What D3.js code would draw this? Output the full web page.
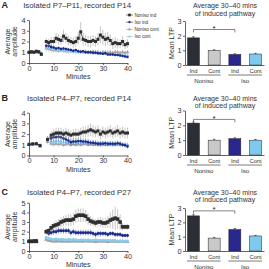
<!DOCTYPE html>
<html>
<head>
<meta charset="utf-8">
<script src="https://cdn.jsdelivr.net/npm/d3@7"></script>
<style>
body { margin: 0; background: #fff; }
svg { display: block; font-family: "Liberation Sans", Arial, sans-serif; }
</style>
</head>
<body>
<div id="chart"></div>
<script>
// ---- data ----
const seriesNames = ["Noniso ind", "Iso ind", "Noniso cont", "Iso cont"];
const minuteTicks = [0, 10, 20, 30, 40];
const barLabels = ["Ind", "Cont", "Ind", "Cont"];
const groupLabels = ["Noniso", "Iso"];
const barTitle = ["Average 30\u201340 mins", "of induced pathway"];

// panel A
const aMinutes = [0, 1, 2, 3, 4, 5,
    7, 8, 9, 10, 11, 12, 13, 14, 15, 16,
    17, 18, 19, 20, 21, 22, 23, 24, 25, 26,
    27, 28, 29, 30, 31, 32, 33, 34, 35, 36,
    37, 38, 39, 40];
const aNonisoInd = [1.0, 1.05, 1.0, 1.1, 1.05, 0.8,
    2.0, 1.9, 2.0, 2.0, 2.3, 2.2, 2.1, 2.5, 2.3, 2.1,
    2.0, 1.9, 2.0, 2.3, 2.9, 2.2, 2.1, 2.0, 2.0, 2.1,
    2.0, 2.2, 2.6, 2.4, 2.2, 2.3, 2.1, 1.8, 1.9, 1.8,
    1.8, 2.0, 1.7, 1.8];
const aNonisoIndErr = [0.1, 0.1, 0.1, 0.1, 0.1, 0.1,
    0.3, 0.35, 0.4, 0.4, 0.45, 0.5, 0.4, 0.6, 0.5, 0.45,
    0.4, 0.5, 0.5, 0.6, 0.9, 0.6, 0.5, 0.5, 0.55, 0.5,
    0.5, 0.6, 0.8, 0.7, 0.6, 0.6, 0.55, 0.5, 0.5, 0.45,
    0.4, 0.5, 0.4, 0.4];
const aIsoInd = [0.95, 1.0, 1.0, 1.05, 1.0, 0.85,
    1.6, 1.6, 1.5, 1.45, 1.35, 1.4, 1.3, 1.35, 1.3, 1.25,
    1.2, 1.15, 1.2, 1.1, 1.05, 1.1, 1.0, 1.0, 1.0, 0.95,
    0.95, 0.9, 0.9, 0.85, 0.9, 0.8, 0.8, 0.8, 0.75, 0.75,
    0.7, 0.65, 0.6, 0.55];
const aIsoIndErr = [0.08, 0.08, 0.08, 0.08, 0.08, 0.08,
    0.2, 0.2, 0.2, 0.15, 0.15, 0.15, 0.15, 0.15, 0.15, 0.12,
    0.12, 0.12, 0.1, 0.1, 0.1, 0.1, 0.1, 0.1, 0.1, 0.1,
    0.1, 0.1, 0.1, 0.1, 0.1, 0.1, 0.1, 0.1, 0.1, 0.1,
    0.1, 0.1, 0.1, 0.1];
const aNonisoCont = [1.0, 1.0, 1.0, 1.0, 1.0, 0.9,
    1.35, 1.3, 1.25, 1.2, 1.2, 1.15, 1.2, 1.15, 1.1, 1.1,
    1.15, 1.1, 1.05, 1.1, 1.05, 1.0, 1.05, 1.0, 1.0, 1.05,
    1.0, 1.0, 0.95, 1.0, 1.0, 0.95, 1.0, 0.95, 1.0, 1.0,
    0.95, 1.0, 0.95, 1.0];
const aNonisoContErr = [0.08, 0.08, 0.08, 0.08, 0.08, 0.08,
    0.3, 0.3, 0.3, 0.25, 0.3, 0.25, 0.3, 0.25, 0.25, 0.25,
    0.25, 0.2, 0.25, 0.2, 0.2, 0.2, 0.2, 0.2, 0.2, 0.2,
    0.2, 0.2, 0.2, 0.2, 0.2, 0.2, 0.2, 0.2, 0.2, 0.2,
    0.2, 0.2, 0.2, 0.2];
const aIsoCont = [1.0, 1.0, 1.05, 1.0, 1.0, 0.9,
    1.45, 1.4, 1.35, 1.3, 1.25, 1.2, 1.2, 1.15, 1.15, 1.1,
    1.1, 1.05, 1.05, 1.0, 1.0, 1.0, 0.95, 0.95, 0.95, 0.9,
    0.9, 0.9, 0.85, 0.85, 0.85, 0.8, 0.8, 0.8, 0.8, 0.75,
    0.75, 0.75, 0.7, 0.7];
const aIsoContErr = [0.06, 0.06, 0.06, 0.06, 0.06, 0.06,
    0.2, 0.2, 0.2, 0.15, 0.15, 0.15, 0.15, 0.15, 0.15, 0.15,
    0.12, 0.12, 0.12, 0.12, 0.12, 0.12, 0.12, 0.12, 0.12, 0.12,
    0.1, 0.1, 0.1, 0.1, 0.1, 0.1, 0.1, 0.1, 0.1, 0.1,
    0.1, 0.1, 0.1, 0.1];
const aBarMeans = [1.85, 1.0, 0.72, 0.75];
const aBarErr = [0.08, 0.04, 0.05, 0.05];

// panel B
const bMinutes = [0, 1.5, 3, 4.5,
    7.5, 9, 10, 11, 12, 13, 14, 15, 16, 17,
    18, 19, 20, 21, 22, 23, 24, 25, 26, 27,
    28, 29, 30, 31, 32, 33, 34, 35, 36, 37,
    38, 39, 40];
const bNonisoInd = [1.05, 1.1, 1.1, 0.9,
    1.5, 1.9, 2.0, 2.1, 2.1, 2.1, 2.0, 2.1, 2.0, 1.9,
    2.0, 2.0, 2.0, 2.1, 2.2, 2.2, 2.3, 2.4, 2.3, 2.2,
    2.3, 2.0, 2.2, 2.1, 2.2, 2.3, 2.1, 2.2, 2.3, 2.1,
    2.2, 2.1, 2.1];
const bNonisoIndErr = [0.1, 0.1, 0.1, 0.1,
    0.3, 0.4, 0.45, 0.5, 0.5, 0.5, 0.45, 0.5, 0.45, 0.45,
    0.45, 0.5, 0.45, 0.5, 0.5, 0.5, 0.55, 0.6, 0.55, 0.5,
    0.55, 0.5, 0.5, 0.5, 0.5, 0.55, 0.5, 0.5, 0.55, 0.5,
    0.5, 0.5, 0.5];
const bIsoInd = [1.0, 1.05, 1.1, 0.95,
    1.5, 1.6, 1.7, 1.7, 1.75, 1.7, 1.6, 1.5, 1.4, 1.25,
    1.3, 1.3, 1.35, 1.35, 1.3, 1.3, 1.25, 1.2, 1.2, 1.15,
    1.1, 1.1, 1.1, 1.15, 1.1, 1.1, 1.1, 1.1, 1.15, 1.1,
    1.0, 0.95, 0.85];
const bIsoIndErr = [0.08, 0.08, 0.08, 0.08,
    0.3, 0.35, 0.4, 0.4, 0.4, 0.4, 0.35, 0.35, 0.3, 0.3,
    0.3, 0.3, 0.3, 0.3, 0.3, 0.3, 0.3, 0.25, 0.25, 0.25,
    0.25, 0.25, 0.25, 0.25, 0.25, 0.25, 0.25, 0.25, 0.25, 0.25,
    0.2, 0.2, 0.2];
const bNonisoCont = [1.0, 1.0, 1.05, 0.95,
    1.3, 1.1, 1.05, 1.1, 1.05, 1.1, 1.0, 1.05, 1.1, 1.0,
    1.05, 1.0, 1.05, 1.0, 1.05, 1.1, 1.0, 1.05, 1.0, 1.05,
    1.0, 1.0, 1.05, 1.0, 1.0, 1.05, 1.0, 1.0, 1.05, 1.0,
    1.0, 1.0, 1.0];
const bNonisoContErr = [0.06, 0.06, 0.06, 0.06,
    0.25, 0.25, 0.25, 0.25, 0.25, 0.25, 0.25, 0.25, 0.25, 0.25,
    0.2, 0.2, 0.2, 0.2, 0.2, 0.2, 0.2, 0.2, 0.2, 0.2,
    0.2, 0.2, 0.2, 0.2, 0.2, 0.2, 0.2, 0.2, 0.2, 0.2,
    0.2, 0.2, 0.2];
const bIsoCont = [1.0, 1.05, 1.05, 1.0,
    1.4, 1.3, 1.25, 1.3, 1.3, 1.25, 1.2, 1.2, 1.25, 1.2,
    1.3, 1.2, 1.2, 1.2, 1.15, 1.2, 1.2, 1.15, 1.2, 1.2,
    1.15, 1.2, 1.2, 1.15, 1.1, 1.15, 1.1, 1.1, 1.1, 1.1,
    1.05, 1.05, 1.0];
const bIsoContErr = [0.06, 0.06, 0.06, 0.06,
    0.2, 0.2, 0.2, 0.2, 0.2, 0.2, 0.2, 0.2, 0.2, 0.2,
    0.2, 0.2, 0.2, 0.2, 0.2, 0.2, 0.2, 0.2, 0.2, 0.2,
    0.15, 0.15, 0.15, 0.15, 0.15, 0.15, 0.15, 0.15, 0.15, 0.15,
    0.15, 0.15, 0.15];
const bBarMeans = [2.15, 1.0, 1.1, 1.0];
const bBarErr = [0.07, 0.06, 0.06, 0.05];

// panel C
const cMinutes = [0, 1, 2, 3,
    7, 8, 9, 10, 11, 12, 13, 14, 15, 16,
    17, 18, 19, 20, 21, 22, 23, 24, 25, 26,
    27, 28, 29, 30, 31, 32, 33, 34, 35, 36,
    37, 38, 39, 40];
const cNonisoInd = [1.0, 1.0, 1.0, 1.0,
    2.0, 2.1, 2.4, 2.6, 2.7, 2.8, 3.0, 3.1, 3.2, 3.2,
    3.2, 3.3, 3.6, 3.7, 3.7, 3.7, 3.6, 3.3, 3.1, 3.0,
    2.9, 3.0, 3.0, 2.9, 2.9, 3.0, 3.2, 3.3, 3.4, 3.3,
    3.0, 2.5, 2.5, 2.5];
const cNonisoIndErr = [0.1, 0.1, 0.1, 0.1,
    0.3, 0.3, 0.4, 0.4, 0.45, 0.5, 0.5, 0.5, 0.55, 0.6,
    0.6, 0.6, 0.7, 0.7, 0.7, 0.7, 0.65, 0.6, 0.5, 0.45,
    0.4, 0.45, 0.5, 0.5, 0.55, 0.6, 0.8, 1.0, 1.2, 1.0,
    0.8, 0.4, 0.3, 0.3];
const cIsoInd = [1.0, 0.95, 1.05, 1.1,
    2.0, 1.8, 1.9, 2.0, 2.0, 2.1, 2.1, 2.1, 2.1, 2.1,
    1.9, 2.0, 1.9, 1.9, 1.9, 1.9, 1.9, 1.9, 1.9, 1.8,
    1.7, 1.8, 1.8, 1.8, 1.8, 1.7, 1.8, 1.8, 1.7, 1.7,
    1.7, 1.6, 1.6, 1.6];
const cIsoIndErr = [0.08, 0.08, 0.08, 0.08,
    0.25, 0.25, 0.3, 0.3, 0.3, 0.3, 0.3, 0.3, 0.3, 0.3,
    0.3, 0.3, 0.3, 0.3, 0.3, 0.3, 0.3, 0.3, 0.3, 0.3,
    0.3, 0.3, 0.3, 0.25, 0.25, 0.25, 0.25, 0.25, 0.25, 0.25,
    0.25, 0.2, 0.2, 0.2];
const cNonisoCont = [1.0, 1.0, 1.0, 1.0,
    1.2, 1.1, 1.05, 1.0, 1.0, 1.05, 1.0, 1.0, 1.0, 1.0,
    1.0, 1.05, 1.0, 1.0, 1.0, 1.0, 1.05, 1.0, 1.0, 1.0,
    0.95, 1.0, 1.0, 1.0, 1.0, 0.95, 1.0, 1.0, 1.0, 0.95,
    1.0, 1.0, 0.95, 0.95];
const cNonisoContErr = [0.06, 0.06, 0.06, 0.06,
    0.15, 0.15, 0.15, 0.15, 0.15, 0.15, 0.15, 0.15, 0.15, 0.15,
    0.15, 0.15, 0.15, 0.15, 0.15, 0.15, 0.15, 0.15, 0.15, 0.15,
    0.15, 0.15, 0.15, 0.15, 0.15, 0.15, 0.15, 0.15, 0.15, 0.15,
    0.15, 0.15, 0.15, 0.15];
const cIsoCont = [1.0, 1.05, 0.95, 1.0,
    1.4, 1.3, 1.25, 1.2, 1.25, 1.2, 1.2, 1.2, 1.15, 1.2,
    1.15, 1.2, 1.15, 1.1, 1.15, 1.15, 1.1, 1.15, 1.1, 1.1,
    1.15, 1.1, 1.1, 1.1, 1.1, 1.1, 1.05, 1.1, 1.05, 1.0,
    1.0, 1.0, 1.0, 1.0];
const cIsoContErr = [0.06, 0.06, 0.06, 0.06,
    0.2, 0.2, 0.15, 0.15, 0.15, 0.15, 0.15, 0.15, 0.15, 0.15,
    0.15, 0.15, 0.15, 0.15, 0.15, 0.15, 0.15, 0.15, 0.15, 0.15,
    0.12, 0.12, 0.12, 0.12, 0.12, 0.12, 0.12, 0.12, 0.12, 0.12,
    0.12, 0.12, 0.12, 0.12];
const cBarMeans = [2.45, 0.9, 1.5, 1.05];
const cBarErr = [0.08, 0.05, 0.07, 0.04];

const sigLevels = [2.42, 2.4, 2.8];

// ---- styles ----
const lineColors = ["#2e2e2e", "#1b2a8a", "#a0a0a0", "#86ccee"];
const errColors = ["#8c8c8c", "#3a4a9a", "#b8b8b8", "#9cd6f2"];
const shapes = [d3.symbolSquare, d3.symbolCircle, d3.symbolTriangle, d3.symbolCircle];
const shapeSizes = [9, 5, 6, 5];
const barColors = ["#2c2e36", "#c9c9c9", "#2a2890", "#80c9ee"];

const svg = d3.select("#chart")
    .append("svg")
    .attr("width", 269)
    .attr("height", 269);

function styleAxis(ax, size) {
    ax.attr("font-family", null).attr("font-size", size);
    ax.selectAll("path, line").attr("stroke", "#222").attr("stroke-width", 0.7);
    ax.selectAll("text").attr("fill", "#333");
}

// split a series into runs where the minutes are contiguous
function segments(mins, vals) {
    const out = [];
    let cur = [];
    mins.forEach((m, i) => {
        if (i > 0 && m - mins[i - 1] > 1.6) { out.push(cur); cur = []; }
        cur.push([m, vals[i]]);
    });
    out.push(cur);
    return out;
}

function drawLinePanel(p) {
    const g = svg.append("g");
    const x = d3.scaleLinear().domain([0, 40]).range([29, 127.5]);
    const y = d3.scaleLinear().domain([0, p.yMax]).range([p.y0, p.yTop]);

    // panel letter + title
    g.append("text").attr("x", 1.5).attr("y", p.titleY)
        .attr("font-size", 9).attr("font-weight", "bold").attr("fill", "#222")
        .text(p.letter);
    g.append("text").attr("x", 131).attr("y", p.titleY)
        .attr("text-anchor", "end").attr("font-size", 7.8).attr("fill", "#333")
        .text(p.title);

    const xAx = g.append("g").attr("transform", `translate(0,${p.y0})`)
        .call(d3.axisBottom(x).tickValues(minuteTicks).tickSize(2).tickPadding(0.5).tickSizeOuter(0));
    styleAxis(xAx, 7.2);
    const yAx = g.append("g").attr("transform", "translate(29,0)")
        .call(d3.axisLeft(y).ticks(p.yMax).tickSize(2).tickPadding(1.5).tickSizeOuter(0));
    styleAxis(yAx, 7.3);

    g.append("text").attr("x", x(20)).attr("y", p.y0 + 16)
        .attr("text-anchor", "middle").attr("font-size", 7).attr("fill", "#333")
        .text("Minutes");

    const ymid = (p.y0 + p.yTop) / 2;
    g.append("text").attr("transform", `translate(10,${ymid}) rotate(-90)`)
        .attr("text-anchor", "middle").attr("font-size", 7).attr("fill", "#333")
        .text("Average");
    g.append("text").attr("transform", `translate(17,${ymid}) rotate(-90)`)
        .attr("text-anchor", "middle").attr("font-size", 7).attr("fill", "#333")
        .text("amplitude");

    const line = d3.line().x(d => x(d[0])).y(d => y(d[1]));

    // draw order: controls under induced
    [2, 3, 1, 0].forEach(si => {
        const vals = p.series[si];
        const errs = p.errors[si];
        const sg = g.append("g");
        sg.selectAll("line.err")
            .data(p.minutes.map((m, i) => ({ m, v: vals[i], e: errs[i] })))
            .join("line")
            .attr("class", "err")
            .attr("x1", d => x(d.m)).attr("x2", d => x(d.m))
            .attr("y1", d => y(d.v - d.e)).attr("y2", d => y(d.v + d.e))
            .attr("stroke", errColors[si]).attr("stroke-width", 0.5);
        segments(p.minutes, vals).forEach(seg => {
            sg.append("path").datum(seg).attr("d", line)
                .attr("fill", "none").attr("stroke", lineColors[si]).attr("stroke-width", 0.7);
        });
        sg.selectAll("path.mk")
            .data(p.minutes.map((m, i) => [m, vals[i]]))
            .join("path")
            .attr("class", "mk")
            .attr("transform", d => `translate(${x(d[0])},${y(d[1])})`)
            .attr("d", d3.symbol().type(shapes[si]).size(shapeSizes[si] * p.mk))
            .attr("fill", lineColors[si]);
    });

    if (p.legend) {
        const lg = g.append("g");
        seriesNames.forEach((name, i) => {
            const ly = 15 + i * 7.2;
            lg.append("line").attr("x1", 126).attr("x2", 133).attr("y1", ly).attr("y2", ly)
                .attr("stroke", lineColors[i]).attr("stroke-width", 0.6);
            lg.append("path").attr("transform", `translate(129.5,${ly})`)
                .attr("d", d3.symbol().type(shapes[i]).size(shapeSizes[i] * 0.8))
                .attr("fill", lineColors[i]);
            lg.append("text").attr("x", 134.5).attr("y", ly).attr("dy", "0.35em")
                .attr("font-size", 4.6).attr("fill", "#333").text(name);
        });
    }
}

function drawBarPanel(p) {
    const g = svg.append("g");
    const x = d3.scaleBand().domain(d3.range(barLabels.length)).range([185, 264])
        .paddingInner(0.42).paddingOuter(0.12);
    const y = d3.scaleLinear().domain([0, 3]).range([p.y0, p.yTop]);
    const bw = x.bandwidth();

    g.selectAll("text.t").data(barTitle).join("text")
        .attr("x", 225).attr("y", (d, i) => p.titleY + i * 7.3)
        .attr("text-anchor", "middle").attr("font-size", 7).attr("fill", "#333")
        .text(d => d);

    g.selectAll("rect").data(p.means).join("rect")
        .attr("x", (d, i) => x(i)).attr("width", bw)
        .attr("y", d => y(d)).attr("height", d => y(0) - y(d))
        .attr("fill", (d, i) => barColors[i])
        .attr("stroke", "#222").attr("stroke-width", 0.5);

    g.selectAll("line.eb").data(p.means).join("line")
        .attr("class", "eb")
        .attr("x1", (d, i) => x(i) + bw / 2).attr("x2", (d, i) => x(i) + bw / 2)
        .attr("y1", d => y(d)).attr("y2", (d, i) => y(d + p.err[i]))
        .attr("stroke", "#222").attr("stroke-width", 0.6);
    g.selectAll("line.cap").data(p.means).join("line")
        .attr("class", "cap")
        .attr("x1", (d, i) => x(i) + bw / 2 - 1.2).attr("x2", (d, i) => x(i) + bw / 2 + 1.2)
        .attr("y1", (d, i) => y(d + p.err[i])).attr("y2", (d, i) => y(d + p.err[i]))
        .attr("stroke", "#222").attr("stroke-width", 0.6);

    const yAx = g.append("g").attr("transform", "translate(185,0)")
        .call(d3.axisLeft(y).ticks(3).tickSize(2).tickPadding(1.5).tickSizeOuter(0));
    styleAxis(yAx, 7.3);
    const xAx = g.append("g").attr("transform", `translate(0,${p.y0})`)
        .call(d3.axisBottom(x).tickSize(0).tickPadding(3.5).tickSizeOuter(0).tickFormat(i => barLabels[i]));
    styleAxis(xAx, 5.7);

    g.append("text").attr("transform", `translate(174,${(p.y0 + p.yTop) / 2}) rotate(-90)`)
        .attr("text-anchor", "middle").attr("font-size", 7).attr("fill", "#333")
        .text("Mean LTP");

    groupLabels.forEach((name, gi) => {
        const x1 = x(gi * 2) - 0.5;
        const x2 = x(gi * 2 + 1) + bw + 0.5;
        g.append("line").attr("x1", x1).attr("x2", x2)
            .attr("y1", p.y0 + 10).attr("y2", p.y0 + 10)
            .attr("stroke", "#222").attr("stroke-width", 0.6);
        g.append("text").attr("x", (x1 + x2) / 2).attr("y", p.y0 + 17.5)
            .attr("text-anchor", "middle").attr("font-size", 6.2).attr("fill", "#333")
            .text(name);
    });

    // significance bracket between the two induced bars
    const sx1 = x(0) + bw / 2, sx2 = x(2) + bw / 2;
    g.append("path")
        .attr("d", `M${sx1},${y(p.sig - 0.2)}V${y(p.sig)}H${sx2}V${y(p.sig - 0.2)}`)
        .attr("fill", "none").attr("stroke", "#333").attr("stroke-width", 0.6);
    g.append("text").attr("x", (sx1 + sx2) / 2).attr("y", y(p.sig) + 1.5)
        .attr("text-anchor", "middle").attr("font-size", 8).attr("fill", "#222")
        .text("*");
}

drawLinePanel({
    letter: "A", title: "Isolated P7\u2013P11, recorded P14", titleY: 8,
    y0: 63, yTop: 20, yMax: 4, mk: 1, legend: true,
    minutes: aMinutes,
    series: [aNonisoInd, aIsoInd, aNonisoCont, aIsoCont],
    errors: [aNonisoIndErr, aIsoIndErr, aNonisoContErr, aIsoContErr]
});
drawLinePanel({
    letter: "B", title: "Isolated P4\u2013P7, recorded P14", titleY: 100.5,
    y0: 155.5, yTop: 112.7, yMax: 4, mk: 1, legend: false,
    minutes: bMinutes,
    series: [bNonisoInd, bIsoInd, bNonisoCont, bIsoCont],
    errors: [bNonisoIndErr, bIsoIndErr, bNonisoContErr, bIsoContErr]
});
drawLinePanel({
    letter: "C", title: "Isolated P4\u2013P7, recorded P27", titleY: 195,
    y0: 251, yTop: 202.7, yMax: 5, mk: 1.4, legend: false,
    minutes: cMinutes,
    series: [cNonisoInd, cIsoInd, cNonisoCont, cIsoCont],
    errors: [cNonisoIndErr, cIsoIndErr, cNonisoContErr, cIsoContErr]
});

drawBarPanel({ titleY: 8.3, y0: 65, yTop: 21, means: aBarMeans, err: aBarErr, sig: sigLevels[0] });
drawBarPanel({ titleY: 100.5, y0: 155, yTop: 110.5, means: bBarMeans, err: bBarErr, sig: sigLevels[1] });
drawBarPanel({ titleY: 195, y0: 251, yTop: 208, means: cBarMeans, err: cBarErr, sig: sigLevels[2] });
</script>
</body>
</html>
